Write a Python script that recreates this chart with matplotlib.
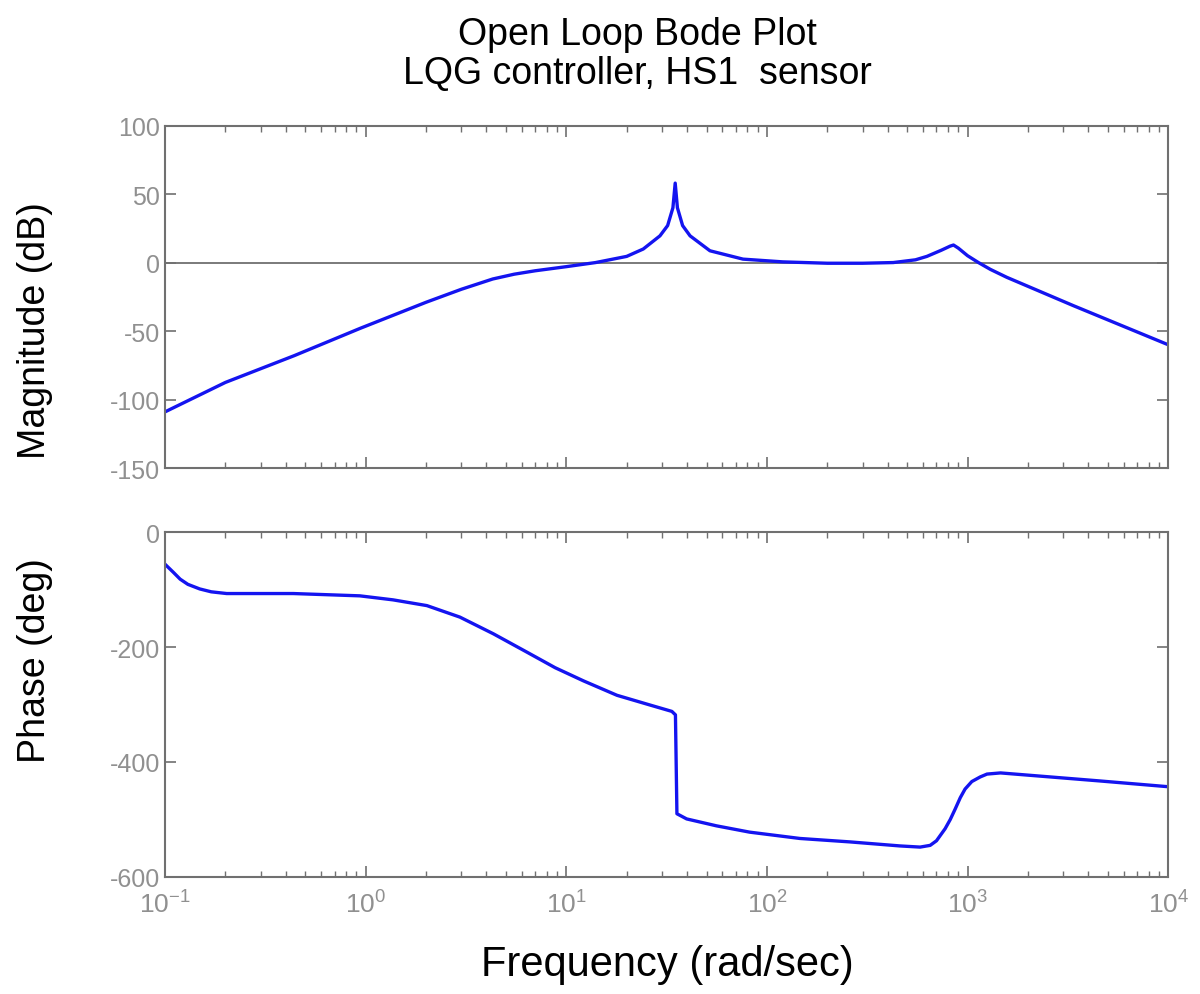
import matplotlib
matplotlib.use("Agg")
import matplotlib.pyplot as plt
import matplotlib.ticker as mticker

plt.rcParams['font.family'] = ['Liberation Sans', 'DejaVu Sans']
plt.rcParams['mathtext.fontset'] = 'custom'
plt.rcParams['mathtext.rm'] = 'Liberation Sans'
plt.rcParams['mathtext.it'] = 'Liberation Sans'
plt.rcParams['axes.unicode_minus'] = False

# magnitude (dB)
mag_freq = [0.1, 0.2, 0.44, 0.94, 2.0, 3.0, 4.3, 5.5, 7.0, 10.0, 14.0, 20.0,
            24.2, 29.3, 32.0, 34.0, 34.9, 35.8, 38.0, 41.4, 52.0, 76.0,
            120.0, 200.0, 300.0, 426.0, 550.0, 627.0, 740.0, 819.0, 851.0,
            900.0, 1000.0, 1133.0, 1300.0, 1570.0, 3373.0, 10000.0]
mag_db = [-109, -87.5, -68, -48, -29, -19.5, -12, -8.5, -6, -3, 0, 4.5,
          9.9, 19.5, 27, 40, 58, 40, 27, 19.5, 8.6, 2.5,
          0.5, -0.5, -0.5, 0, 2, 4.5, 9, 12, 12.8,
          10.5, 5, 0, -5, -10.8, -31.5, -60]

# phase (deg)
ph_freq = [0.1, 0.11, 0.119, 0.13, 0.149, 0.17, 0.203, 0.436, 0.935, 1.37,
           2.02, 2.95, 4.33, 6.37, 8.8, 12.2, 17.9, 26.2, 33.6, 35.0, 35.6,
           39.8, 56.0, 82.0, 146.0, 260.0, 461.0, 580.0, 651.0, 700.0,
           773.0, 820.0, 867.0, 920.0, 972.0, 1050.0, 1156.0, 1250.0,
           1460.0, 4580.0, 10000.0]
ph_deg = [-56, -70, -82, -91, -99, -104, -107, -107, -111, -118,
          -128, -148, -177, -209, -236, -259, -284, -301, -312, -318, -490,
          -499, -511, -522, -533, -539, -546, -548, -545, -537,
          -516, -500, -482, -462, -447, -434, -426, -421,
          -419, -433, -443]

gray = '#707070'
tick_gray = '#909090'
blue = '#1414f0'

fig = plt.figure(figsize=(12, 9.95), dpi=100)
ax1 = fig.add_axes([0.1375, 0.5286, 0.836, 0.3442])
ax2 = fig.add_axes([0.1375, 0.1176, 0.836, 0.3467])

for ax in (ax1, ax2):
    ax.set_xscale('log')
    ax.set_xlim(0.1, 1e4)
    ax.tick_params(which='both', direction='in', top=True, right=True,
                   color=gray, labelcolor=tick_gray, labelsize=18)
    ax.tick_params(which='major', length=8, width=1.2)
    ax.tick_params(which='minor', length=4, width=1.0)
    ax.xaxis.set_minor_locator(mticker.LogLocator(base=10, subs=range(2, 10), numticks=20))
    for s in ax.spines.values():
        s.set_color(gray)
        s.set_linewidth(1.5)

ax1.axhline(0, color=gray, lw=1.3)
ax1.plot(mag_freq, mag_db, color=blue, lw=2.4)
ax1.set_ylim(-150, 100)
ax1.set_yticks([-150, -100, -50, 0, 50, 100])
ax1.tick_params(axis='x', which='both', labelbottom=False)

ax2.plot(ph_freq, ph_deg, color=blue, lw=2.4)
ax2.set_ylim(-600, 0)
ax2.set_yticks([-600, -400, -200, 0])
ax2.xaxis.set_major_locator(mticker.LogLocator(base=10, numticks=10))
ax2.xaxis.set_major_formatter(mticker.LogFormatterMathtext())
ax2.tick_params(axis='x', pad=10, labelsize=19)

fig.text(0.029, 0.668, 'Magnitude (dB)', rotation=90, ha='center', va='center', fontsize=27)
fig.text(0.029, 0.336, 'Phase (deg)', rotation=90, ha='center', va='center', fontsize=27)
fig.text(0.556, 0.030, 'Frequency (rad/sec)', ha='center', va='center', fontsize=30)
fig.text(0.531, 0.965, 'Open Loop Bode Plot', ha='center', va='center', fontsize=27)
fig.text(0.531, 0.926, 'LQG controller, HS1  sensor', ha='center', va='center', fontsize=27)

fig.savefig('out.png', dpi=100)
